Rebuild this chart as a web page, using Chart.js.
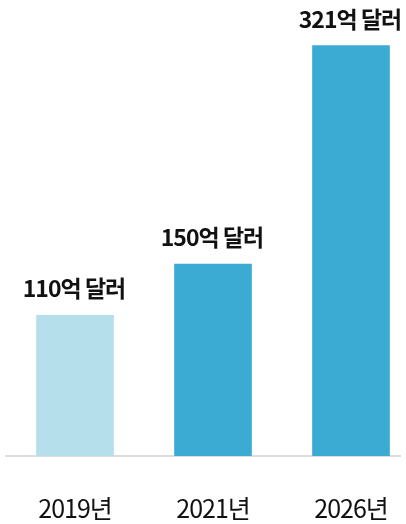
<!DOCTYPE html>
<html>
<head>
<meta charset="utf-8">
<script src="https://cdn.jsdelivr.net/npm/chart.js@4"></script>
<style>
  html, body { margin: 0; padding: 0; background: #fff; overflow: hidden; }
  #wrap { width: 406px; height: 524px; }
</style>
</head>
<body>
<div id="wrap"><canvas id="myChart"></canvas></div>
<script>
// data
const years = ['2019년', '2021년', '2026년'];
const values = [110, 150, 321];
const value_labels = ['110억 달러', '150억 달러', '321억 달러'];
const bar_colors = ['#b6dfec', '#3babd3', '#3babd3'];

const font_family = "'Noto Sans CJK KR', sans-serif";

// tighter letters, like the reference
const tight_text = {
    id: 'tight_text',
    beforeDraw(chart) {
        chart.ctx.letterSpacing = '-1px';
    }
};

// draws the "xxx억 달러" text above each bar
const top_labels = {
    id: 'top_labels',
    afterDatasetsDraw(chart) {
        const ctx = chart.ctx;
        const meta = chart.getDatasetMeta(0);
        ctx.save();
        ctx.letterSpacing = '-1px';
        ctx.font = "bold 23px " + font_family;
        ctx.fillStyle = '#111';
        ctx.textAlign = 'center';
        ctx.textBaseline = 'alphabetic';
        meta.data.forEach(function (bar, i) {
            ctx.fillText(value_labels[i], bar.x - 1, bar.y - 18);
        });
        ctx.restore();
    }
};

const ctx = document.getElementById('myChart').getContext('2d');
const myBarChart = new Chart(ctx, {
    type: 'bar',
    data: {
        datasets: [{
            data: values.map((v, i) => ({ x: i, y: v })),
            backgroundColor: bar_colors,
            barThickness: 77,
            borderWidth: 0
        }]
    },
    options: {
        responsive: true,
        maintainAspectRatio: false,
        animation: false,
        layout: { padding: { left: 6, right: 6, top: 0, bottom: 0 } },
        plugins: {
            legend: { display: false },
            tooltip: { enabled: false }
        },
        scales: {
            x: {
                type: 'linear',
                offset: false,
                min: -0.5,
                max: 2.355,
                afterBuildTicks: axis => { axis.ticks = years.map((_, i) => ({ value: i })); },
                afterFit: axis => {
                    axis.height = 68;
                    axis.paddingLeft = 0;
                    axis.paddingRight = 0;
                },
                grid: { display: false, drawTicks: false },
                border: { display: true, color: '#dcdcdc', width: 2 },
                ticks: {
                    callback: (v) => years[v],
                    color: '#111',
                    padding: 37,
                    maxRotation: 0,
                    autoSkip: false,
                    font: { family: font_family, size: 25 }
                }
            },
            y: {
                display: false,
                min: 0,
                max: 356.6
            }
        }
    },
    plugins: [tight_text, top_labels]
});
</script>
</body>
</html>
